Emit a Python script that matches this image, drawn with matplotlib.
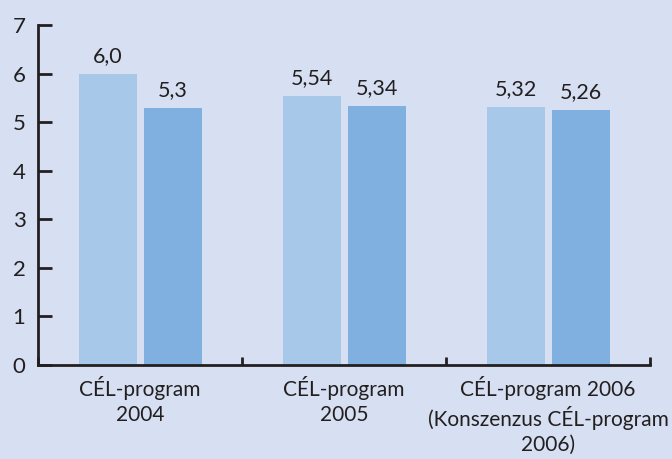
import matplotlib
matplotlib.use("Agg")
import matplotlib.pyplot as plt
import numpy as np

categories = ["CÉL-program\n2004", "CÉL-program\n2005",
              "CÉL-program 2006\n(Konszenzus CÉL-program\n2006)"]
series_a = [6.0, 5.54, 5.32]
series_b = [5.3, 5.34, 5.26]
labels_a = ["6,0", "5,54", "5,32"]
labels_b = ["5,3", "5,34", "5,26"]
yticks = [0, 1, 2, 3, 4, 5, 6, 7]

plt.rcParams['font.family'] = ['Lato', 'DejaVu Sans']

bg = "#d6e0f2"
col_a = "#a8c8ea"
col_b = "#80b0e0"
ink = "#231f20"

fig = plt.figure(figsize=(6.72, 4.59), dpi=100, facecolor=bg)
ax = fig.add_axes([38/672, 1-365/459, (650-38)/672, (365-25)/459], facecolor=bg)

x = np.arange(len(categories))
w = 0.284
ca = x + 0.343
cb = x + 0.662
ax.bar(ca, series_a, width=w, color=col_a, zorder=2)
ax.bar(cb, series_b, width=w, color=col_b, zorder=2)
for xi, v, t in zip(ca, series_a, labels_a):
    ax.annotate(t, (xi, v), xytext=(0, 5.5), textcoords="offset points",
                ha="center", va="bottom", fontsize=15.5, color=ink)
for xi, v, t in zip(cb, series_b, labels_b):
    ax.annotate(t, (xi, v), xytext=(0, 5.5), textcoords="offset points",
                ha="center", va="bottom", fontsize=15.5, color=ink)

ax.set_xlim(0, 3)
ax.set_ylim(0, 7)
for s in ["top", "right"]:
    ax.spines[s].set_visible(False)
for s in ["left", "bottom"]:
    ax.spines[s].set_linewidth(2.0)
    ax.spines[s].set_color(ink)

ax.set_yticks(yticks)
ax.set_yticklabels([str(v) for v in yticks])
ax.tick_params(axis="y", direction="in", length=10, width=2.0, color=ink,
               labelsize=16, labelcolor=ink, pad=9)

ax.set_xticks([0, 1, 2, 3])
ax.set_xticklabels([])
ax.tick_params(axis="x", which="major", direction="in", length=6, width=2.0, color=ink)
ax.set_xticks(x + 0.5, minor=True)
ax.set_xticklabels(categories, minor=True, linespacing=1.3)
ax.tick_params(axis="x", which="minor", length=0, labelsize=15, labelcolor=ink, pad=8)

fig.savefig("out.png", dpi=100, facecolor=bg)
